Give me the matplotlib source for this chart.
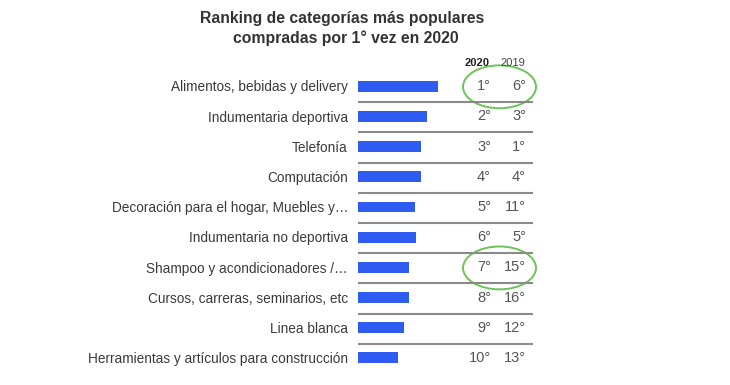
import matplotlib.pyplot as plt
from matplotlib.patches import Ellipse

plt.rcParams['font.family'] = ['Liberation Sans', 'DejaVu Sans']

categorias = [
    "Alimentos, bebidas y delivery",
    "Indumentaria deportiva",
    "Telefonía",
    "Computación",
    "Decoración para el hogar, Muebles y…",
    "Indumentaria no deportiva",
    "Shampoo y acondicionadores /…",
    "Cursos, carreras, seminarios, etc",
    "Linea blanca",
    "Herramientas y artículos para construcción",
]
valores = [80, 69, 63, 63, 57, 58, 51, 51, 46, 40]
rank_2020 = ["1°", "2°", "3°", "4°", "5°", "6°", "7°", "8°", "9°", "10°"]
rank_2019 = ["6°", "3°", "1°", "4°", "11°", "5°", "15°", "16°", "12°", "13°"]
destacados = [0, 6]

W, H = 730, 385
fig = plt.figure(figsize=(W / 100, H / 100), dpi=100)
ax = fig.add_axes([358 / W, 1 - 376 / H, (540 - 358) / W, (376 - 56) / H])
ax.set_xlim(0, 182)
ax.set_ylim(9.6, -1)
ax.axis('off')

y = list(range(len(categorias)))
ax.barh(y, valores, height=0.36, color='#2e5cf2')

txt = '#3a3a3a'
for i, cat in enumerate(categorias):
    ax.text(-10, i + 0.04, cat, ha='right', va='center', fontsize=9.8, color=txt, clip_on=False)
    ax.text(133, i, rank_2020[i], ha='right', va='center', fontsize=10.5, color='#555555')
    ax.text(168, i, rank_2019[i], ha='right', va='center', fontsize=10.5, color='#555555')
    if i < len(categorias) - 1:
        ax.plot([0, 175], [i + 0.53, i + 0.53], color='#8a8a8a', lw=1.5, solid_capstyle='butt')

ax.text(119, -0.78, "2020", ha='center', va='center', fontsize=8, fontweight='bold', color='#222222')
ax.text(155, -0.78, "2019", ha='center', va='center', fontsize=8, color='#444444')

for i in destacados:
    ax.add_patch(Ellipse((141.5, i + 0.02), 73, 1.42, fill=False, ec='#6cc35a', lw=1.4, clip_on=False))

fig.text(342 / W, 1 - 19 / H, "Ranking de categorías más populares", ha='center', va='center',
         fontsize=11.3, fontweight='bold', color='#333333')
fig.text(346 / W, 1 - 38 / H, "compradas por 1° vez en 2020", ha='center', va='center',
         fontsize=11.3, fontweight='bold', color='#333333')

fig.savefig('out.png', dpi=100, facecolor='white')
